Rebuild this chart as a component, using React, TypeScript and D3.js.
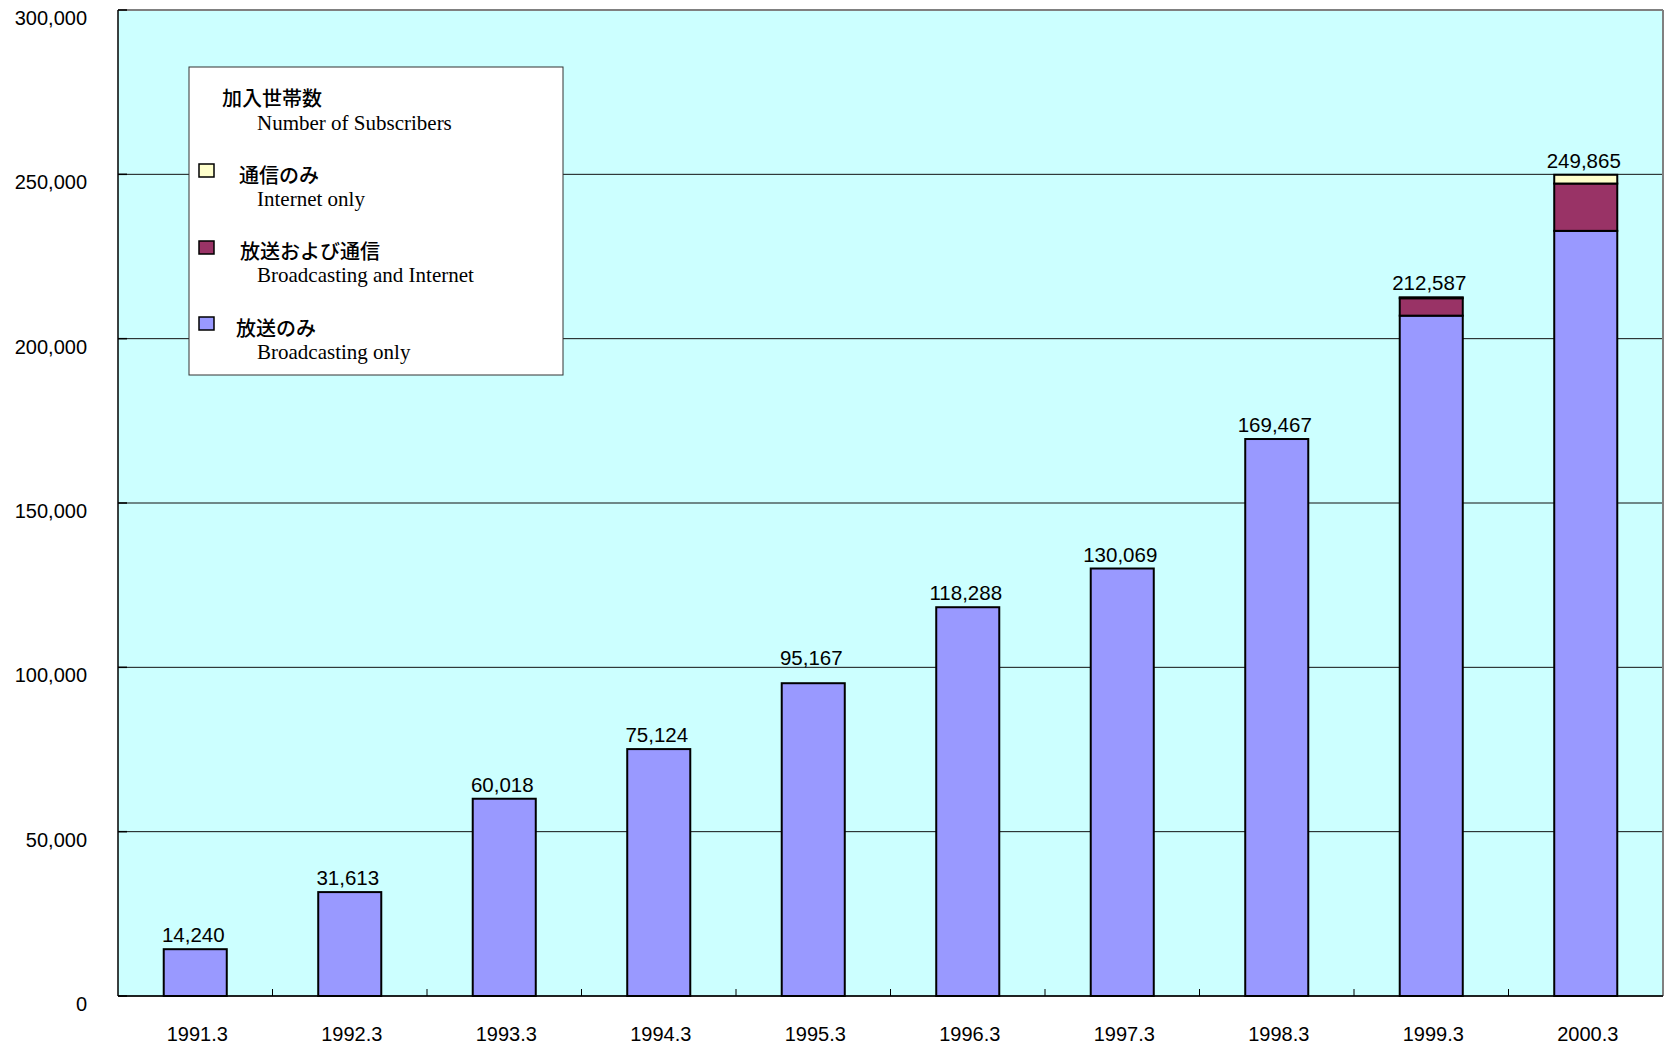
import React from 'react';
import * as d3 from 'd3';

const categories = ['1991.3', '1992.3', '1993.3', '1994.3', '1995.3', '1996.3', '1997.3', '1998.3', '1999.3', '2000.3'];
const broadcastOnly = [14240, 31613, 60018, 75124, 95167, 118288, 130069, 169467, 207000, 232800];
const broadcastInternet = [0, 0, 0, 0, 0, 0, 0, 0, 5300, 14400];
const internetOnly = [0, 0, 0, 0, 0, 0, 0, 0, 287, 2665];
const totals = [14240, 31613, 60018, 75124, 95167, 118288, 130069, 169467, 212587, 249865];
const yTicks = [0, 50000, 100000, 150000, 200000, 250000, 300000];

const seriesKeys = ['broadcastOnly', 'broadcastInternet', 'internetOnly'];
const seriesColors: Record<string, string> = {
  broadcastOnly: '#9999FF',
  broadcastInternet: '#993366',
  internetOnly: '#FFFFCC',
};

const legendItems = [
  { key: 'internetOnly', jp: '通信のみ', en: 'Internet only' },
  { key: 'broadcastInternet', jp: '放送および通信', en: 'Broadcasting and Internet' },
  { key: 'broadcastOnly', jp: '放送のみ', en: 'Broadcasting only' },
];

// label placement tweak (the 1995.3 label sits higher in the original)
const labelLift: Record<string, number> = { '1995.3': 11 };

const W = 1665;
const H = 1045;
const M = { left: 118, right: 2, top: 10, bottom: 49 };

export default function App() {
  const x = d3
    .scaleBand<string>()
    .domain(categories)
    .range([M.left, W - M.right])
    .paddingInner(0.592)
    .paddingOuter(0.296);
  const y = d3.scaleLinear().domain([0, 300000]).range([H - M.bottom, M.top]);

  const rows = categories.map((c, i) => ({
    cat: c,
    broadcastOnly: broadcastOnly[i],
    broadcastInternet: broadcastInternet[i],
    internetOnly: internetOnly[i],
  }));
  const stacked = d3.stack<any>().keys(seriesKeys)(rows);
  const step = x.step();
  const sans = '"Liberation Sans", Arial, sans-serif';
  const serif = '"Liberation Serif", "Times New Roman", serif';
  const cjk = '"Noto Sans CJK JP", sans-serif';

  const lx = 189;
  const ly = 67;

  return (
    <svg width={W} height={H} style={{ position: 'absolute', left: 0, top: 0 }}>
      <rect x={0} y={0} width={W} height={H} fill="#fff" />
      <rect x={M.left} y={M.top} width={W - M.right - M.left} height={y(0) - M.top} fill="#CCFFFF" />
      {/* gridlines */}
      {yTicks.map((t) => (
        <line key={'g' + t} x1={M.left} x2={W - M.right} y1={y(t)} y2={y(t)} stroke={t === 300000 ? '#808080' : '#111'} strokeWidth={t === 300000 ? 2 : 1} />
      ))}
      {/* y ticks */}
      {yTicks.map((t) => (
        <line key={'yt' + t} x1={M.left} x2={M.left + 9} y1={y(t)} y2={y(t)} stroke="#000" strokeWidth={1.5} />
      ))}
      {yTicks.map((t) => (
        <text key={'yl' + t} x={87} y={y(t) + 15} textAnchor="end" fontFamily={sans} fontSize={20} fill="#000">
          {d3.format(',')(t)}
        </text>
      ))}
      {/* right border */}
      <line x1={W - M.right} x2={W - M.right} y1={M.top} y2={y(0)} stroke="#808080" strokeWidth={2} />
      {/* bars */}
      {stacked.map((s) => (
        <g key={s.key}>
          {s.map((d, i) =>
            d[1] - d[0] > 0 ? (
              <rect
                key={i}
                x={x(categories[i])!}
                width={x.bandwidth()}
                y={y(d[1])}
                height={y(d[0]) - y(d[1])}
                fill={seriesColors[s.key]}
                stroke="#000"
                strokeWidth={2}
              />
            ) : null
          )}
        </g>
      ))}
      {/* value labels */}
      {categories.map((c, i) => (
        <text
          key={'vl' + c}
          x={x(c)! + x.bandwidth() / 2 - 2}
          y={y(totals[i]) - 7 - (labelLift[c] || 0)}
          textAnchor="middle"
          fontFamily={sans}
          fontSize={20.5}
          fill="#000"
        >
          {d3.format(',')(totals[i])}
        </text>
      ))}
      {/* axes */}
      <line x1={M.left} x2={M.left} y1={M.top} y2={y(0)} stroke="#000" strokeWidth={1.5} />
      <line x1={M.left} x2={W - M.right} y1={y(0)} y2={y(0)} stroke="#000" strokeWidth={1.5} />
      {categories.slice(1).map((c) => (
        <line key={'xt' + c} x1={x(c)! - (step - x.bandwidth()) / 2} x2={x(c)! - (step - x.bandwidth()) / 2} y1={y(0)} y2={y(0) - 7} stroke="#000" strokeWidth={1} />
      ))}
      {categories.map((c) => (
        <text key={'xl' + c} x={x(c)! + x.bandwidth() / 2 + 2} y={1041} textAnchor="middle" fontFamily={sans} fontSize={20} fill="#000">
          {c}
        </text>
      ))}
      {/* legend */}
      <rect x={lx} y={ly} width={374} height={308} fill="#fff" stroke="#333" strokeWidth={1} />
      <text x={222} y={106} fontFamily={cjk} fontWeight={500} fontSize={20} fill="#000">加入世帯数</text>
      <text x={257} y={130} fontFamily={serif} fontSize={21} fill="#000">Number of Subscribers</text>
      {legendItems.map((it, k) => {
        const base = [183, 259, 336][k];
        const sw = [164, 241, 317][k];
        const tx = [239, 240, 236][k];
        return (
          <g key={it.key}>
            <rect x={199} y={sw} width={15} height={13} fill={seriesColors[it.key]} stroke="#000" strokeWidth={1.5} />
            <text x={tx} y={base} fontFamily={cjk} fontWeight={500} fontSize={20} fill="#000">{it.jp}</text>
            <text x={257} y={base + 23} fontFamily={serif} fontSize={21} fill="#000">{it.en}</text>
          </g>
        );
      })}
    </svg>
  );
}
